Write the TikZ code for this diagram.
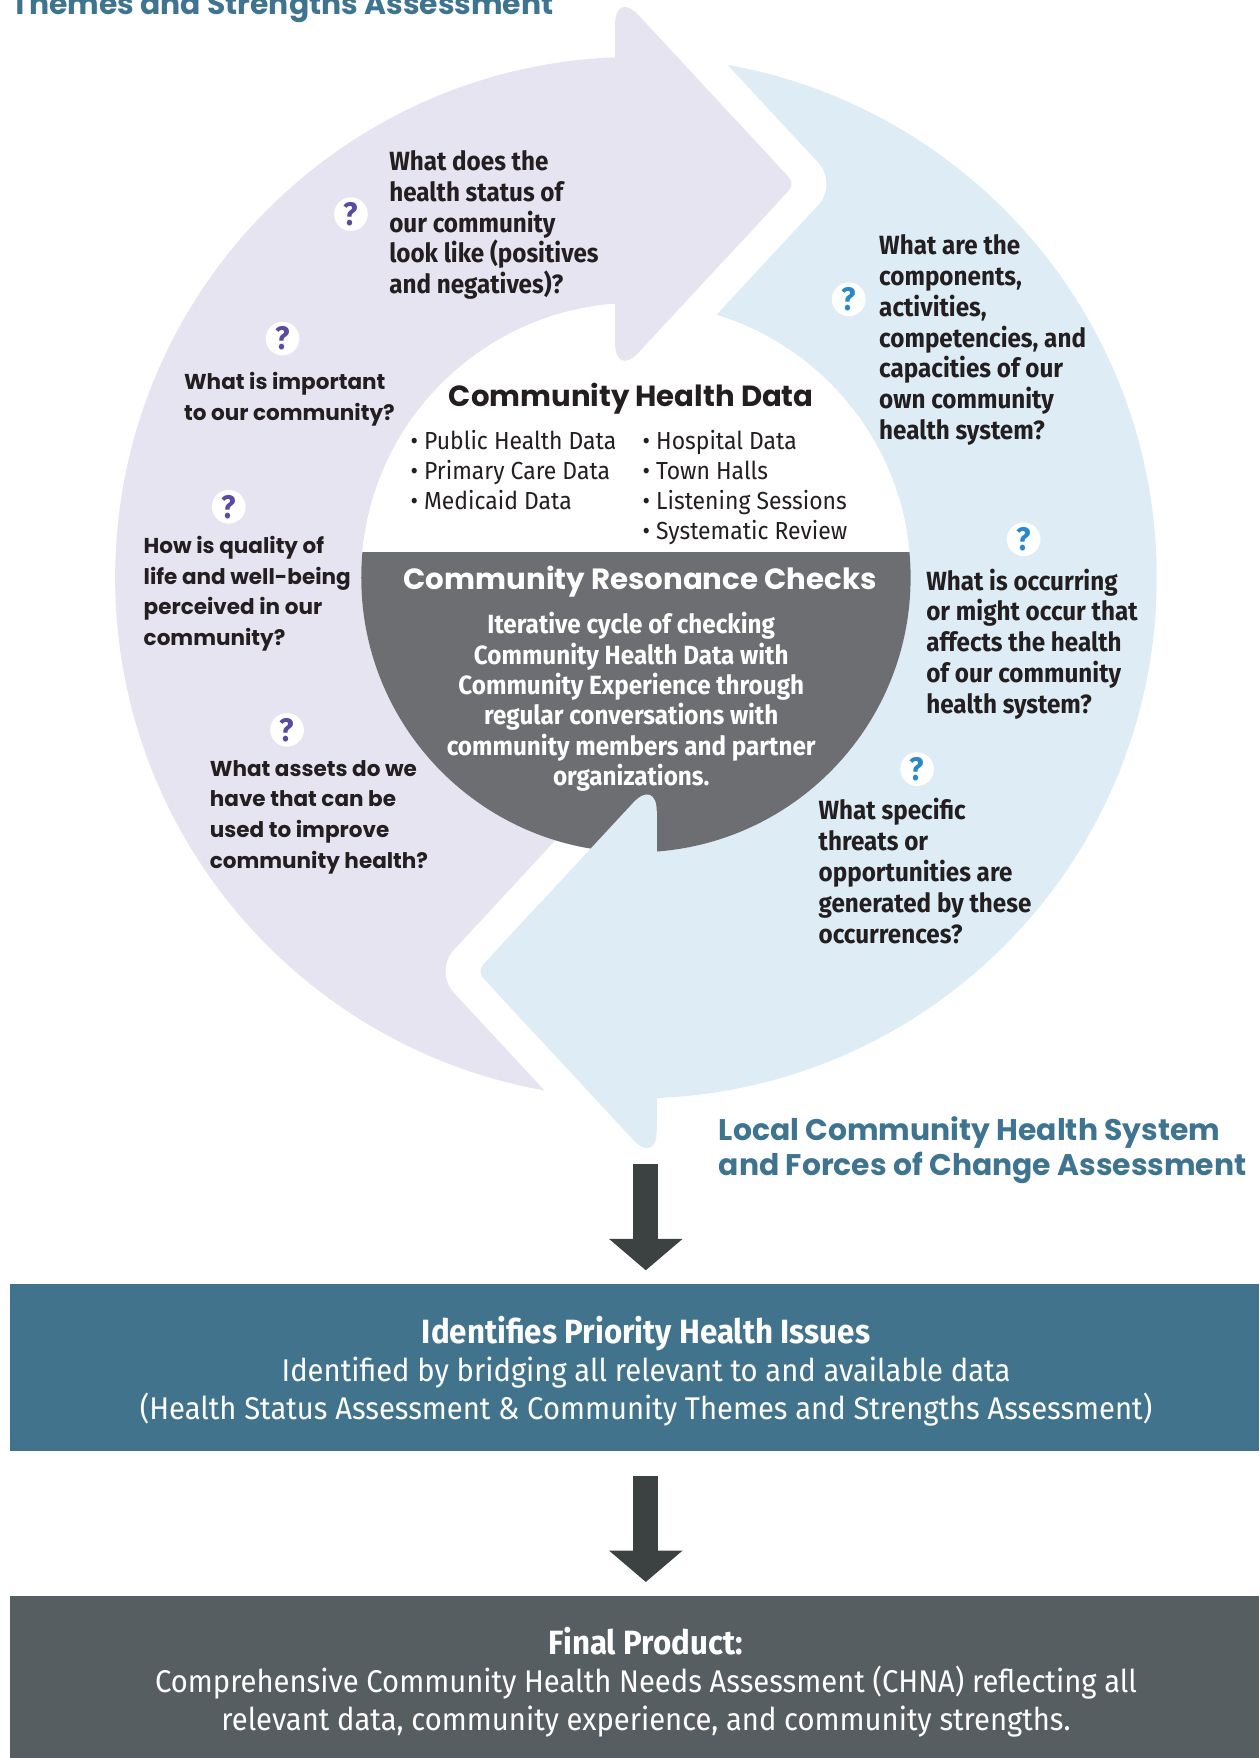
\documentclass[tikz,border=0pt]{standalone}
\usepackage{fontspec}
\setmainfont{Fira Sans}
\newfontfamily\qfont[FakeStretch=0.92]{Fira Sans}
\newfontfamily\bfont[FakeStretch=0.93]{Fira Sans}
\newfontfamily\hfont{Poppins}
\newcommand\boxheadfont{\bfseries\fontsize{30}{34}\selectfont}
\usetikzlibrary{arrows.meta}
\definecolor{lav}{RGB}{230,228,241}
\definecolor{blu}{RGB}{222,237,245}
\definecolor{discgray}{RGB}{109,110,113}
\definecolor{tealtxt}{RGB}{63,116,144}
\definecolor{boxone}{RGB}{65,116,140}
\definecolor{boxtwo}{RGB}{87,94,97}
\definecolor{arrowc}{RGB}{60,65,66}
\definecolor{qpur}{RGB}{91,74,158}
\definecolor{qblu}{RGB}{41,137,200}
\definecolor{ink}{RGB}{35,31,32}
\begin{document}
\begin{tikzpicture}[x=1pt,y=-1pt,
  qtext/.style={font=\qfont\bfseries\fontsize{23.5}{27.5}\selectfont, text=ink, align=left, anchor=north west, inner sep=0pt},
  qtextm/.style={font=\hfont\bfseries\fontsize{19.2}{27.3}\selectfont, text=ink, align=left, anchor=north west, inner sep=0pt},
  qmark/.style={circle, fill=white, minimum size=30pt, inner sep=0pt, font=\qfont\bfseries\fontsize{29}{29}\selectfont},
  qmarkp/.style={qmark, text=qpur},
  qmarkb/.style={qmark, text=qblu},
  bullets/.style={font=\bfont\fontsize{22}{26.7}\selectfont, text=ink, align=left, anchor=north west, inner sep=0pt},
  headlabel/.style={font=\hfont\bfseries\fontsize{26.6}{31}\selectfont, text=tealtxt, inner sep=0pt},
  bigbox/.style={minimum width=1114pt, anchor=north west, inner sep=0pt},
  boxtext/.style={text=white, align=center, inner sep=0pt, font=\bfont\fontsize{28}{34}\selectfont},
  bigarrow/.style={draw=arrowc, line width=22pt, -{Triangle[width=64pt,length=28pt]}}
]
\useasboundingbox (0,0) rectangle (1123,1568);
\coordinate (c) at (567.2,515.2);
% ring bodies
\begin{scope}
  \clip (0,0) rectangle (567.2,1100);
  \fill[lav, even odd rule] (c) circle[radius=464.5pt] (c) circle[radius=245pt];
\end{scope}
\begin{scope}
  \clip (567.2,0) rectangle (1123,1100);
  \fill[blu, even odd rule] (c) circle[radius=464.5pt] (c) circle[radius=245pt];
\end{scope}
% white gaps in front of the arrowheads
\begin{scope}
  \clip (548.6,-80) rectangle (820,420);
  \draw[white, line width=56pt, line join=round] (548.6,-9) -- (709,164) -- (548.6,337);
\end{scope}
\begin{scope}
  \clip (320,640) rectangle (585.8,1100);
  \draw[white, line width=56pt, line join=round] (585.8,693.3) -- (425.4,866.3) -- (585.8,1039.3);
\end{scope}
% central disc
\begin{scope}
  \clip (c) circle[radius=245pt];
  \fill[white] (300,250) rectangle (840,492);
  \fill[discgray] (300,492) rectangle (840,780);
\end{scope}
% lavender arrowhead
\fill[lav, rounded corners=31pt] (548.6,164) -- (548.6,-9) -- (709,164) -- (548.6,337) -- cycle;
\fill[lav, rounded corners=8pt] (650,100.4) -- (709,164) -- (650,227.6) -- cycle;
% blue arrowhead
\fill[blu, rounded corners=31pt] (585.8,866.3) -- (585.8,693.3) -- (425.4,866.3) -- (585.8,1039.3) -- cycle;
\fill[blu, rounded corners=8pt] (484.4,802.7) -- (425.4,866.3) -- (484.4,929.9) -- cycle;
% question marks and questions
\node[qmarkp] (m1) at (313,191) {?};
\node[qtext] (t1) at (347,134) {What does the\\health status of\\our community\\look like (positives\\and negatives)?};
\node[qmarkp] (m2) at (252,302) {?};
\node[qtextm] (t2) at (164,332) {What is important\\to our community?};
\node[qmarkp] (m3) at (204,452) {?};
\node[qtextm] (t3) at (128,478) {How is quality of\\life and well-being\\perceived in our\\community?};
\node[qmarkp] (m4) at (256,651) {?};
\node[qtextm] (t4) at (187,678) {What assets do we\\have that can be\\used to improve\\community health?};
\node[qmarkb] (m5) at (757,267) {?};
\node[qtext] (t5) at (784,209) {What are the\\components,\\activities,\\competencies, and\\capacities of our\\own community\\health system?};
\node[qmarkb] (m6) at (913,481) {?};
\node[qtext] (t6) at (826,507) {What is occurring\\or might occur that\\affects the health\\of our community\\health system?};
\node[qmarkb] (m7) at (818,686) {?};
\node[qtext] (t7) at (730,712) {What specific\\threats or\\opportunities are\\generated by these\\occurrences?};
% disc texts
\node[font=\hfont\bfseries\fontsize{26}{30}\selectfont, text=ink, inner sep=0pt] (chd) at (563,356) {Community Health Data};
\node[bullets] (bl) at (366,384) {• Public Health Data\\• Primary Care Data\\• Medicaid Data};
\node[bullets] (br) at (573,384) {• Hospital Data\\• Town Halls\\• Listening Sessions\\• Systematic Review};
\node[font=\hfont\bfseries\fontsize{26.1}{30}\selectfont, text=white, inner sep=0pt] (crc) at (571,519) {Community Resonance Checks};
\node[font=\qfont\bfseries\fontsize{23.5}{27}\selectfont, text=white, align=center, inner sep=0pt] (para) at (563,626)
  {Iterative cycle of checking\\Community Health Data with\\Community Experience through\\regular conversations with\\community members and partner\\organizations.};
% labels
\node[headlabel, anchor=base west] (title) at (10,13) {Themes and Strengths Assessment};
\node[headlabel, align=left, anchor=north west] (lchs) at (641,996) {Local Community Health System\\and Forces of Change Assessment};
% boxes
\node[bigbox, fill=boxone, minimum height=149pt] (box1) at (9,1145) {};
\node[boxtext] (box1t) at ([xshift=10pt,yshift=-3pt]box1.center)
  {{\boxheadfont Identifies Priority Health Issues}\\Identified by bridging all relevant to and available data\\(Health Status Assessment \& Community Themes and Strengths Assessment)};
\node[bigbox, fill=boxtwo, minimum height=146pt] (box2) at (9,1423) {};
\node[boxtext] (box2t) at ([xshift=10pt,yshift=-4pt]box2.center)
  {{\boxheadfont Final Product:}\\Comprehensive Community Health Needs Assessment (CHNA) reflecting all\\relevant data, community experience, and community strengths.};
% arrows
\coordinate (ringbottom) at (576,1024);
\draw[bigarrow, shorten <=14pt, shorten >=12pt] (ringbottom) -- (ringbottom |- box1.north);
\draw[bigarrow, shorten <=22pt, shorten >=12pt] (box1.south -| ringbottom) -- (ringbottom |- box2.north);
\end{tikzpicture}
\end{document}
